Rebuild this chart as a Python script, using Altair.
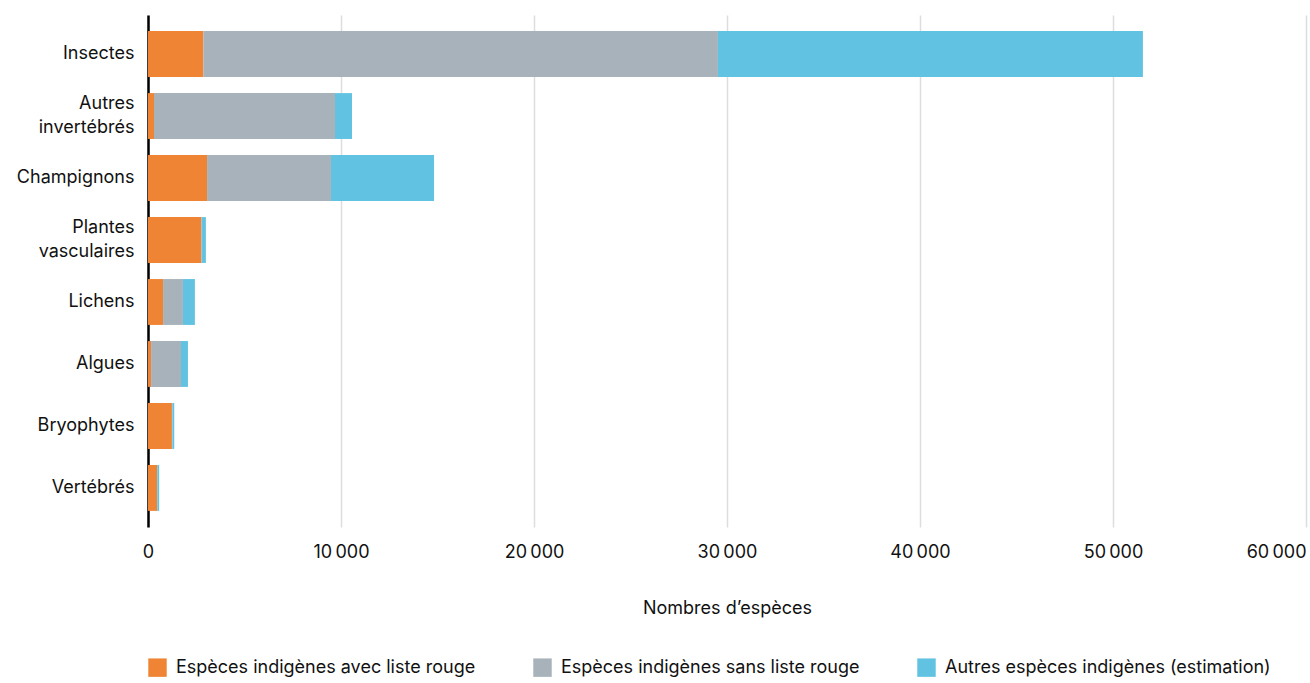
import altair as alt
import pandas as pd

categories = ["Insectes", "Autres|invertébrés", "Champignons", "Plantes|vasculaires",
              "Lichens", "Algues", "Bryophytes", "Vertébrés"]
series = ["Espèces indigènes avec liste rouge", "Espèces indigènes sans liste rouge",
          "Autres espèces indigènes (estimation)"]
rouge = [2870, 310, 3060, 2760, 780, 160, 1240, 470]
sans_rouge = [26660, 9380, 6420, 40, 1030, 1550, 20, 10]
autres = [22020, 880, 5340, 200, 620, 360, 100, 100]
colors = ["#EE8434", "#A7B2BA", "#61C3E1"]
x_ticks = [0, 10000, 20000, 30000, 40000, 50000, 60000]

rows = []
for i, c in enumerate(categories):
    for k, (s, vals) in enumerate(zip(series, [rouge, sans_rouge, autres])):
        rows.append({"cat": c, "serie": s, "val": vals[i], "ord": k})
df = pd.DataFrame(rows)

FONT = "Inter"
FS = 18

chart = alt.Chart(df).mark_bar().encode(
    y=alt.Y("cat:N", sort=categories, title=None,
            scale=alt.Scale(paddingInner=0.26, paddingOuter=0.26),
            axis=alt.Axis(labelExpr="split(datum.label, '|')", labelFontSize=FS,
                          labelColor="#111", labelFont=FONT, labelPadding=14,
                          labelLineHeight=24, ticks=False, domainColor="#000",
                          domainWidth=2.5, grid=False, labelLimit=300,
                          labelOffset={"condition": {"test": "indexof(datum.value, '|') >= 0", "value": -12},
                                       "value": 0})),
    x=alt.X("val:Q", stack="zero", title="Nombres d’espèces",
            scale=alt.Scale(domain=[0, 60000], nice=False),
            axis=alt.Axis(values=x_ticks, labelExpr="replace(format(datum.value, ','), ',', '\u2009')",
                          labelFontSize=FS, labelColor="#111", labelFont=FONT,
                          labelPadding=16, ticks=False, domain=False,
                          labelAlign={"condition": {"test": "datum.value == 60000", "value": "right"},
                                      "value": "center"},
                          grid=True, gridColor="#dddddd", gridWidth=1.5,
                          titleFont=FONT, titleFontSize=FS, titleFontWeight="normal",
                          titleColor="#111", titlePadding=38, labelFlush=False)),
    color=alt.Color("serie:N", sort=series,
                    scale=alt.Scale(domain=series, range=colors),
                    legend=alt.Legend(orient="bottom", direction="horizontal", title=None,
                                      symbolType="square", symbolSize=340, symbolStrokeWidth=0,
                                      labelFontSize=FS, labelFont=FONT, labelColor="#111",
                                      labelLimit=0,
                                      columnPadding=57, labelOffset=9, offset=41,
                                      symbolOpacity=1)),
    order=alt.Order("ord:Q"),
).properties(
    width=1158, height=512,
    autosize=alt.AutoSizeParams(type="none"),
    padding={"left": 148, "top": 15, "right": 4, "bottom": 156},
).configure_view(stroke=None).configure_axisX(gridOpacity=1)

chart.save("out.html", embed_options={"renderer": "svg", "actions": False})
